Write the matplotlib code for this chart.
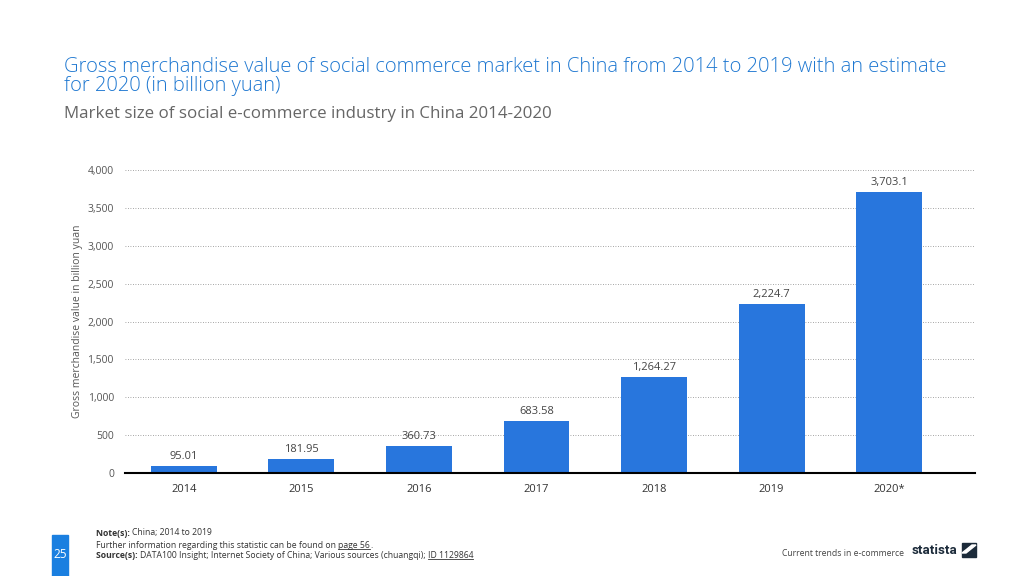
import matplotlib
matplotlib.use("Agg")
import matplotlib.pyplot as plt
from matplotlib.patches import Rectangle, Polygon
from matplotlib.lines import Line2D

plt.rcParams['font.family'] = ['Open Sans', 'DejaVu Sans']

categories = ["2014", "2015", "2016", "2017", "2018", "2019", "2020*"]
values = [95.01, 181.95, 360.73, 683.58, 1264.27, 2224.7, 3703.1]
value_labels = ["95.01", "181.95", "360.73", "683.58", "1,264.27", "2,224.7", "3,703.1"]
yticks = [0, 500, 1000, 1500, 2000, 2500, 3000, 3500, 4000]

bar_color = "#2876dd"
title_color = "#1f78d1"
text_grey = "#555555"

W, H = 1024, 576
fig = plt.figure(figsize=(10.24, 5.76), dpi=100)
fig.patch.set_facecolor("white")

ax = fig.add_axes([125/W, 1-473/H, (975-125)/W, (473-170)/H])
x = list(range(len(categories)))
ax.bar(x, values, width=0.56, color=bar_color, zorder=3)
ax.set_xlim(-0.5, 6.73)
ax.set_ylim(0, 4000)
ax.set_yticks(yticks)
ax.set_yticklabels([f"{v:,}" for v in yticks], fontsize=7.5, color=text_grey)
ax.set_xticks(x)
ax.set_xticklabels(categories, fontsize=8, color="#333333")
ax.tick_params(axis='both', length=0)
ax.tick_params(axis='y', pad=8)
ax.tick_params(axis='x', pad=8)
for s in ["top", "right", "left"]:
    ax.spines[s].set_visible(False)
ax.spines["bottom"].set_color("black")
ax.spines["bottom"].set_linewidth(1.5)
ax.spines["bottom"].set_zorder(4)
ax.grid(axis='y', linestyle=(0, (1, 2)), color="#888888", linewidth=0.6, zorder=0)
ax.set_axisbelow(True)
ax.set_ylabel("Gross merchandise value in billion yuan", fontsize=7.5, color=text_grey, labelpad=3)

for xi, v, lab in zip(x, values, value_labels):
    ax.annotate(lab, (xi, v), xytext=(0, 3), textcoords="offset points",
                ha="center", va="bottom", fontsize=8, color="#444444")

fig.text(64/W, 1-67.5/H, "Gross merchandise value of social commerce market in China from 2014 to 2019 with an estimate",
         fontsize=14.5, color=title_color, ha="left", va="center", fontweight="light")
fig.text(64/W, 1-86.5/H, "for 2020 (in billion yuan)",
         fontsize=14.5, color=title_color, ha="left", va="center", fontweight="light")
fig.text(64/W, 1-114/H, "Market size of social e-commerce industry in China 2014-2020",
         fontsize=12.2, color="#666666", ha="left", va="center")

fig.canvas.draw()
renderer = fig.canvas.get_renderer()
fs = 6.2
fc = "#333333"

def seq(xpix, ypix, parts):
    cur = xpix
    for txt, bold, underline in parts:
        t = fig.text(cur/W, 1-ypix/H, txt, fontsize=fs, color=fc, ha="left", va="center",
                     fontweight="bold" if bold else "normal")
        bb = t.get_window_extent(renderer)
        if underline:
            y0 = bb.y0 + 1
            fig.add_artist(Line2D([bb.x0/W, bb.x1/W], [y0/H, y0/H], transform=fig.transFigure,
                                  color=fc, linewidth=0.6))
        cur = bb.x1

seq(96, 533, [("Note(s): ", True, False), ("China; 2014 to 2019", False, False)])
seq(96, 545, [("Further information regarding this statistic can be found on ", False, False),
              ("page 56", False, True), (".", False, False)])
seq(96, 555, [("Source(s): ", True, False),
              ("DATA100 Insight; Internet Society of China; Various sources (chuangqi); ", False, False),
              ("ID 1129864", False, True)])

fig.add_artist(Rectangle((52/W, 0), 16/W, 1-535/H, transform=fig.transFigure, color="#1a7fe0", zorder=1))
fig.text(60/W, 1-555/H, "25", fontsize=8.5, color="white", ha="center", va="center", zorder=2)

fig.text(782/W, 1-553/H, "Current trends in e-commerce", fontsize=6.2, color="#444444", ha="left", va="center")
fig.text(912/W, 1-550/H, "statista", fontsize=9.5, fontweight="bold", color="#1c2b3a", ha="left", va="center",
         family=["Roboto", "DejaVu Sans"])
fig.add_artist(Rectangle((962/W, 1-557/H), 14/W, 14/H, transform=fig.transFigure, color="#1c2b3a"))
fig.add_artist(Polygon([[962/W, 1-553/H], [972/W, 1-545/H], [976/W, 1-545/H], [966/W, 1-553/H]],
                       closed=True, transform=fig.transFigure, color="white"))

fig.savefig("out.png", dpi=100, facecolor="white")
